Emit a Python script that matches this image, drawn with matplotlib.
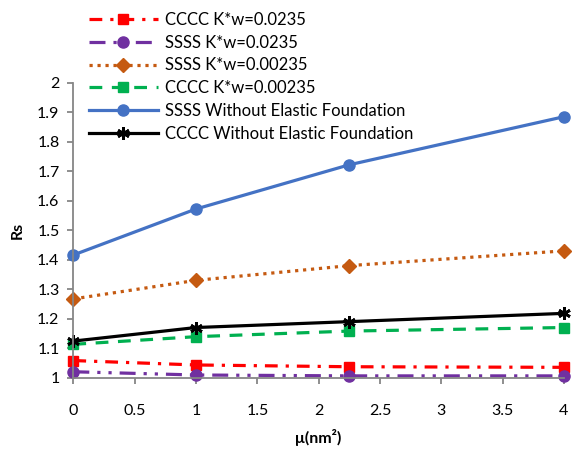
import matplotlib as mpl
mpl.use('Agg')
import matplotlib.pyplot as plt

plt.rcParams['font.family'] = ['Lato', 'DejaVu Sans']

mu = [0, 1, 2.25, 4]

cccc_k0235 = [1.058, 1.043, 1.037, 1.035]
ssss_k0235 = [1.020, 1.009, 1.006, 1.006]
ssss_k00235 = [1.267, 1.330, 1.380, 1.430]
cccc_k00235 = [1.113, 1.139, 1.158, 1.170]
ssss_free = [1.416, 1.572, 1.722, 1.885]
cccc_free = [1.124, 1.170, 1.190, 1.218]

labels = ['CCCC K*w=0.0235', 'SSSS K*w=0.0235', 'SSSS K*w=0.00235',
          'CCCC K*w=0.00235', 'SSSS Without Elastic Foundation',
          'CCCC Without Elastic Foundation']

x_ticks = [0, 0.5, 1, 1.5, 2, 2.5, 3, 3.5, 4]
y_ticks = [1, 1.1, 1.2, 1.3, 1.4, 1.5, 1.6, 1.7, 1.8, 1.9, 2]

fig = plt.figure(figsize=(5.82, 4.55), dpi=100)
ax = fig.add_axes([0.126, 0.170, 0.843, 0.648])

lw = 2.3
ax.plot(mu, cccc_k0235, color='#FF0000', lw=lw, dashes=(4, 2.5, 1, 2.5),
        marker='s', ms=7, clip_on=False, label=labels[0])
ax.plot(mu, ssss_k0235, color='#7030A0', lw=lw, dashes=(5, 2.5, 1, 2.5, 1, 2.5),
        marker='o', ms=8, clip_on=False, label=labels[1])
ax.plot(mu, ssss_k00235, color='#C55A11', lw=lw, dashes=(1, 1.5),
        marker='D', ms=7, clip_on=False, label=labels[2])
ax.plot(mu, cccc_k00235, color='#00B050', lw=lw, dashes=(4, 3),
        marker='s', ms=7, clip_on=False, label=labels[3])
ax.plot(mu, ssss_free, color='#4472C4', lw=lw, linestyle='-',
        marker='o', ms=8, clip_on=False, label=labels[4])
ax.plot(mu, cccc_free, color='black', lw=lw, linestyle='-',
        marker=(6, 2, 0), ms=9, mew=2, clip_on=False, label=labels[5])

ax.set_xlim(0, 4)
ax.set_ylim(1, 2)
ax.set_xticks(x_ticks)
ax.set_xticklabels(['0', '0.5', '1', '1.5', '2', '2.5', '3', '3.5', '4'])
ax.set_yticks(y_ticks)
ax.set_yticklabels(['1', '1.1', '1.2', '1.3', '1.4', '1.5', '1.6', '1.7', '1.8', '1.9', '2'])

for s in ['top', 'right']:
    ax.spines[s].set_visible(False)
for s in ['left', 'bottom']:
    ax.spines[s].set_color('#868686')
    ax.spines[s].set_linewidth(1.3)
ax.tick_params(axis='both', colors='#868686', length=4, width=1.3, labelsize=11.5,
               labelcolor='black')
ax.tick_params(axis='x', pad=15)
ax.tick_params(axis='y', pad=6)

ax.set_xlabel('μ(nm²)', fontsize=11.5, fontweight='bold', labelpad=8)
ax.set_ylabel('Rs', fontsize=11.5, fontweight='bold', labelpad=9)

fig.legend(loc='upper left', bbox_to_anchor=(0.142, 0.989), frameon=False,
           fontsize=12, handlelength=4.1, labelspacing=0.41, handletextpad=0.45,
           borderaxespad=0)

fig.savefig('out.png', dpi=100)
plt.close(fig)
